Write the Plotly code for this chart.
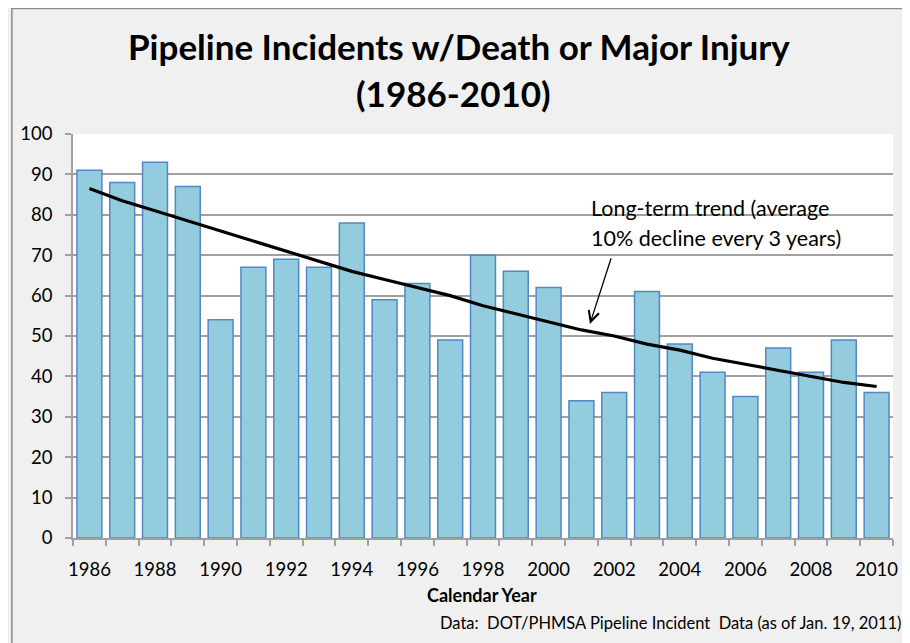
import plotly.graph_objects as go

years = list(range(1986, 2011))
incidents = [91, 88, 93, 87, 54, 67, 69, 67, 78, 59, 63, 49, 70, 66, 62,
             34, 36, 61, 48, 41, 35, 47, 41, 49, 36]
trend = [86.5, 83.5, 81, 78.5, 76, 73.5, 71, 68.5, 66, 64, 62, 60, 57.5,
         55.5, 53.5, 51.5, 50, 48, 46.5, 44.5, 43, 41.5, 40, 38.5, 37.5]
year_ticks = [y for y in years if y % 2 == 0]
year_ticktext = [str(y) for y in year_ticks]

title_lines = ["Pipeline Incidents w/Death or Major Injury", "(1986-2010)"]
note_lines = ["Long-term trend (average", "10% decline every 3 years)"]
x_title = "Calendar Year"
source = "Data:  DOT/PHMSA Pipeline Incident  Data (as of Jan. 19, 2011)"

FONT = "Lato"
GRID = "#a0a0a0"

# page offset of the figure inside the browser (default body margin)
OFF = 8
FW, FH = 910 - OFF, 643 - OFF
# plot area in page pixels
W0, W1, T0, B0 = 70, 895, 134, 538
pw, ph = W1 - W0, B0 - T0
def px(x):
    return (x - W0) / pw
def py(y):
    return (B0 - y) / ph

fig = go.Figure()
fig.add_trace(go.Bar(
    x=years, y=incidents,
    marker=dict(color="#93cddd", line=dict(color="#5487c8", width=1.5)),
    width=0.76, showlegend=False, hoverinfo="x+y"))
fig.add_trace(go.Scatter(
    x=years, y=trend, mode="lines",
    line=dict(color="black", width=3.2), showlegend=False))

fig.update_layout(
    width=FW, height=FH,
    margin=dict(l=W0 - OFF, r=910 - W1, t=T0 - OFF, b=643 - B0, pad=0),
    paper_bgcolor="#f0f0f0", plot_bgcolor="white",
    font=dict(family=FONT, color="black"),
    bargap=0.24,
    xaxis=dict(
        range=[1985.5, 2010.5], tickmode="array", tickvals=year_ticks,
        ticktext=year_ticktext, ticks="outside", ticklen=6,
        tickcolor="rgba(0,0,0,0)", ticklabelstandoff=8,
        tickfont=dict(size=18.5, family=FONT, color="black"),
        showgrid=False, zeroline=False, showline=True,
        linecolor=GRID, linewidth=1.5,
        minor=dict(tick0=0.5, dtick=1, ticks="outside", ticklen=6,
                   tickcolor=GRID, tickwidth=1.5, showgrid=False),
    ),
    yaxis=dict(
        range=[0, 100], dtick=10, ticks="outside", ticklen=6,
        tickcolor=GRID, tickwidth=1.5, ticklabelstandoff=9,
        tickfont=dict(size=18.5, family=FONT, color="black"),
        showgrid=True, gridcolor=GRID, gridwidth=1.5,
        zeroline=False, showline=True, linecolor=GRID, linewidth=1.5,
    ),
    shapes=[
        dict(type="rect", xref="paper", yref="paper", layer="between",
             x0=px(573), x1=px(873), y0=py(268), y1=py(186),
             fillcolor="white", line=dict(width=0)),
        dict(type="line", xref="paper", yref="paper",
             x0=px(8.5), x1=px(8.5), y0=py(8), y1=py(660),
             line=dict(color="#8c8c8c", width=1.5)),
        dict(type="line", xref="paper", yref="paper",
             x0=px(8), x1=px(930), y0=py(8.5), y1=py(8.5),
             line=dict(color="#8c8c8c", width=1.5)),
    ],
)

ann = []
ann.append(dict(text="<b>" + title_lines[0] + "</b>", xref="paper", yref="paper",
                x=px(458), y=py(46), xanchor="center", yanchor="middle",
                showarrow=False, font=dict(size=35, family=FONT)))
ann.append(dict(text="<b>" + title_lines[1] + "</b>", xref="paper", yref="paper",
                x=px(453), y=py(93), xanchor="center", yanchor="middle",
                showarrow=False, font=dict(size=35, family=FONT)))
ann.append(dict(text=note_lines[0], xref="paper", yref="paper",
                x=px(589), y=py(208), xanchor="left", yanchor="middle",
                showarrow=False, font=dict(size=21.5, family=FONT)))
ann.append(dict(text=note_lines[1], xref="paper", yref="paper",
                x=px(589), y=py(238), xanchor="left", yanchor="middle",
                showarrow=False, font=dict(size=21.5, family=FONT)))
ann.append(dict(text="", x=2001.26, y=53.0, ax=2001.92, ay=69.6,
                xref="x", yref="y", axref="x", ayref="y",
                showarrow=True, arrowhead=5, arrowsize=1.6, arrowwidth=1.3,
                arrowcolor="black"))
ann.append(dict(text="<b>" + x_title + "</b>", xref="paper", yref="paper",
                x=px(481), y=py(595), xanchor="center", yanchor="middle",
                showarrow=False, font=dict(size=18, family=FONT)))
ann.append(dict(text=source, xref="paper", yref="paper",
                x=px(905), y=py(623), xanchor="right", yanchor="middle",
                showarrow=False, font=dict(size=16.5, family=FONT)))
fig.update_layout(annotations=ann)

fig.write_html("out.html")
